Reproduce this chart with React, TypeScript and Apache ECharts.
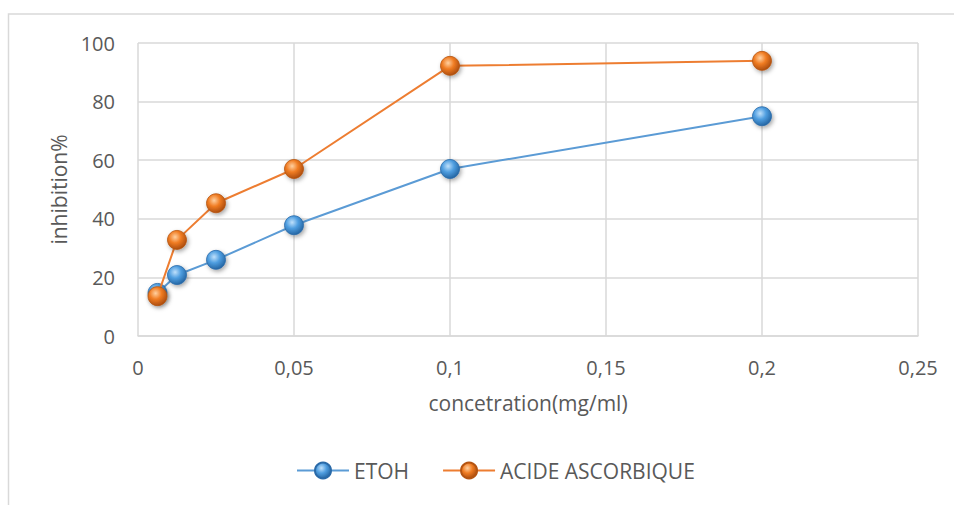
import React, { useEffect, useRef } from "react";
import * as echarts from "echarts";

const concentrations = [0.00625, 0.0125, 0.025, 0.05, 0.1, 0.2];
const etohValues = [14.7, 20.8, 26, 37.8, 57, 75];
const acideValues = [13.6, 32.8, 45.3, 57, 92.2, 93.9];
const seriesNames = ["ETOH", "ACIDE ASCORBIQUE"];
const xAxisTitle = "concetration(mg/ml)";
const yAxisTitle = "inhibition%";

const FONT = "'Open Sans', 'Liberation Sans', sans-serif";
const TXT = "#595959";
const GRID = "#d9d9d9";

function sphere(light: string, mid: string, dark: string) {
  return new echarts.graphic.RadialGradient(0.4, 0.35, 0.7, [
    { offset: 0, color: light },
    { offset: 0.45, color: mid },
    { offset: 1, color: dark },
  ]);
}

export default function App() {
  const ref = useRef<HTMLDivElement>(null);
  useEffect(() => {
    document.body.style.margin = "0";
    document.body.style.overflow = "hidden";
    if (!ref.current) return;
    const chart = echarts.init(ref.current, undefined, { renderer: "svg" });
    const blueBall = sphere("#bfe0fb", "#4f9ee0", "#1f5f9c");
    const orangeBall = sphere("#ffd0a0", "#f07c22", "#a4470c");
    const mk = (xs: number[], ys: number[]) => xs.map((x, i) => [x, ys[i]]);
    const markerStyle = (fill: any, border: string) => ({
      color: fill,
      borderColor: border,
      borderWidth: 0.8,
      shadowBlur: 4,
      shadowColor: "rgba(0,0,0,0.35)",
      shadowOffsetX: 1.5,
      shadowOffsetY: 2,
    });
    chart.setOption({
      animation: false,
      backgroundColor: "#ffffff",
      textStyle: { fontFamily: FONT },
      graphic: [
        {
          type: "rect",
          shape: { x: 8.5, y: 14, width: 1000, height: 600 },
          style: { fill: "none", stroke: GRID, lineWidth: 1.5 },
          silent: true,
          z: -10,
        },
      ],
      grid: { left: 138, top: 43, width: 780, height: 293, containLabel: false },
      xAxis: {
        type: "value",
        min: 0,
        max: 0.25,
        interval: 0.05,
        name: xAxisTitle,
        nameLocation: "middle",
        nameGap: 56,
        nameTextStyle: { fontSize: 21, color: TXT, fontFamily: FONT },
        axisLine: { show: true, lineStyle: { color: GRID, width: 1.5 } },
        axisTick: { show: false },
        splitLine: { show: true, lineStyle: { color: GRID, width: 1.5 } },
        axisLabel: {
          fontSize: 20,
          color: TXT,
          margin: 21,
          fontFamily: FONT,
          formatter: (v: number) => String(Math.round(v * 100) / 100).replace(".", ","),
        },
      },
      yAxis: {
        type: "value",
        min: 0,
        max: 100,
        interval: 20,
        name: yAxisTitle,
        nameLocation: "middle",
        nameGap: 69,
        nameTextStyle: { fontSize: 21, color: TXT, fontFamily: FONT },
        axisLine: { show: false },
        axisTick: { show: false },
        splitLine: { show: true, lineStyle: { color: GRID, width: 1.5 } },
        axisLabel: { fontSize: 20, color: TXT, margin: 23, fontFamily: FONT },
      },
      legend: {
        bottom: 19,
        left: 291,
        itemWidth: 52,
        itemHeight: 20,
        itemGap: 33,
        textStyle: { fontSize: 21, color: TXT, fontFamily: FONT },
        data: [seriesNames[0], seriesNames[1]],
      },
      series: [
        {
          name: seriesNames[0],
          type: "line",
          data: mk(concentrations, etohValues),
          symbol: "circle",
          symbolSize: 19,
          lineStyle: { color: "#5b9bd5", width: 2 },
          itemStyle: markerStyle(blueBall, "#2a6aa8"),
          z: 2,
        },
        {
          name: seriesNames[1],
          type: "line",
          data: mk(concentrations, acideValues),
          symbol: "circle",
          symbolSize: 19,
          lineStyle: { color: "#ed7d31", width: 2 },
          itemStyle: markerStyle(orangeBall, "#b55411"),
          z: 3,
        },
      ],
    });
    return () => chart.dispose();
  }, []);
  return <div ref={ref} style={{ width: 954, height: 505 }} />;
}
